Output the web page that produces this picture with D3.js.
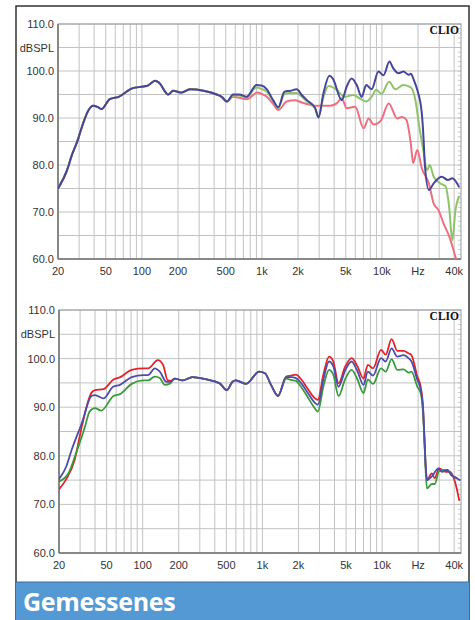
<!DOCTYPE html>
<html>
<head>
<meta charset="utf-8">
<script src="https://cdn.jsdelivr.net/npm/d3@7"></script>
<style>
html,body{margin:0;padding:0;background:#fff;}
svg{display:block;}
</style>
</head>
<body>
<svg id="c" width="475" height="620"></svg>
<script>
// ---------- DATA ----------
const yTicks = [60, 70, 80, 90, 100, 110];
const yTickLabels = ["60.0", "70.0", "80.0", "90.0", "100.0", "110.0"];
const xTickValues = [20, 50, 100, 200, 500, 1000, 2000, 5000, 10000, 20000, 40000];
const xTickLabels = ["20", "50", "100", "200", "500", "1k", "2k", "5k", "10k", "Hz", "40k"];
const xGrid = [20,30,40,50,60,70,80,90,100,200,300,400,500,600,700,800,900,1000,2000,3000,4000,5000,6000,7000,8000,9000,10000,20000,30000,40000];
const unitLabel = "dBSPL";
const brand = "CLIO";
const footerTitle = "Gemessenes";

// Top chart (Hz, dB)
const topCommon = [[20,75],[23.8,78.9],[26,82],[29.4,85.5],[31,87.4],[36,91.7],[39,92.6],[43,92.3],[46,91.9],[54,94.0],[64,94.5],[83,96.3],[103,96.7],[112,96.9],[129,97.9],[139,97.5],[166,95.0],[182,95.8],[215,95.4],[251,96.1],[326,95.8],[421,95.0],[462,94.5]];
const topBlueHigh = [[512,93.5],[575,95.0],[650,95.0],[745,94.5],[900,97.0],[990,96.9],[1100,96.1],[1240,93.8],[1370,92.3],[1540,95.6],[1730,95.8],[1950,96.1],[2150,94.9],[2370,93.8],[2780,92.1],[2960,90.1],[3260,95.3],[3650,99.0],[3900,98.4],[4620,93.8],[5090,96.7],[5590,98.4],[6170,97.0],[6780,94.5],[7400,97.0],[8200,96.1],[9360,99.9],[10300,99.1],[11550,102.0],[12400,100.6],[13800,99.5],[15100,99.9],[16700,99.2],[17400,99.4],[18500,98.0],[19700,96.0],[21500,91.0],[22300,85.0],[22800,80.0],[24600,74.7],[27000,76.1],[31500,77.5],[35500,76.8],[38600,77.2],[43800,75.4]];
const topGreenHigh = [[512,93.5],[575,94.8],[650,94.8],[745,94.4],[900,96.5],[990,96.2],[1100,95.6],[1240,93.6],[1370,92.1],[1540,95.1],[1730,95.3],[1950,95.3],[2150,94.5],[2370,93.5],[2780,92.0],[2960,90.2],[3260,94.5],[3600,96.8],[4200,96.0],[4900,94.5],[5800,94.9],[6500,94.2],[7400,93.5],[8200,94.5],[9000,96.0],[9900,95.1],[11500,97.7],[12900,96.1],[15100,97.0],[17400,96.5],[19000,93.8],[20500,88.1],[22000,83.5],[23800,78.9],[25000,80.0],[27000,77.5],[30500,76.1],[34000,75.4],[36300,71.1],[38600,64.0],[41000,70.4],[43800,73.3]];
const topRedHigh = [[512,93.5],[575,94.5],[650,94.3],[745,94.0],[920,95.4],[1000,95.1],[1100,94.5],[1240,93.0],[1370,91.7],[1610,93.5],[1880,93.8],[2150,93.3],[2530,92.8],[2780,92.6],[3100,92.6],[3700,92.6],[4200,93.1],[4620,94.2],[5090,92.1],[5990,92.4],[7040,87.8],[7750,89.9],[8540,88.6],[9720,89.3],[11400,93.1],[13400,89.9],[14700,90.2],[16000,89.6],[17400,84.6],[18200,80.4],[19700,83.2],[21500,79.3],[24600,76.1],[27000,71.8],[29600,70.4],[32600,67.6],[36900,64.4],[40500,60.9],[42500,59.0]];

// Bottom chart (Hz, dB)
const botBlueLow = [[20,75.2],[23,77.8],[25.5,81.2],[31,86.7],[37.4,92.3],[40,92.5],[47,91.8],[56.6,94.2],[64.6,94.6],[81,96.2],[101,96.6],[111,96.6],[126,98.0],[139,97.3],[158,95.2],[170,95.2]];
const botRedLow = [[20,73.1],[23,75.2],[27,79.1],[31,86.0],[37.4,93.0],[40,93.5],[47,93.7],[57,95.7],[65,96.2],[81,97.7],[101,98.0],[111,98.0],[134,99.7],[148,98.7],[162,95.5],[172,95.4]];
const botGreenLow = [[20,74.7],[24,76.4],[28,80.8],[33,86.0],[36,89.1],[40,89.8],[45,89.3],[57,92.3],[64.6,92.7],[81,94.8],[101,95.5],[111,95.5],[126,96.3],[139,96.0],[153,94.6],[170,94.9]];
const botCommon = [[185,95.9],[216,95.5],[260,96.2],[340,95.7],[440,94.9],[506,93.5],[560,95.2],[600,95.5],[730,94.8],[940,97.3],[1050,97.0],[1180,94.6],[1350,92.3]];
const botBlueHigh = [[1580,96.2],[1740,96.2],[1910,96.0],[2100,95.0],[2360,93.2],[2700,91.1],[2900,90.5],[3250,96.0],[3600,99.4],[3900,98.5],[4330,94.2],[4900,97.5],[5560,99.4],[6200,97.5],[6990,94.6],[7600,97.3],[8400,96.5],[9800,100.1],[10700,99.4],[12000,102.1],[13400,100.4],[15100,100.7],[16600,100.1],[17600,99.4],[19700,95.6],[21000,93.6],[22000,89.4],[22600,83.3],[23100,78.0],[23700,75.0],[25900,75.7],[29600,77.4],[31600,76.7],[35000,77.1],[38000,76.0],[42000,75.4],[44500,75.0]];
const botRedHigh = [[1580,96.3],[1740,96.5],[1910,96.7],[2100,95.8],[2360,94.0],[2700,92.0],[2900,91.5],[3250,97.0],[3600,100.4],[3900,99.5],[4330,94.9],[4900,98.3],[5560,100.1],[6200,98.5],[6990,95.9],[7600,98.7],[8400,98.0],[9800,101.8],[10700,100.8],[12000,104.0],[13400,101.6],[15100,101.6],[16600,101.1],[17600,100.7],[19700,96.3],[21000,94.2],[22000,89.8],[22600,83.3],[23100,78.0],[23700,75.0],[26000,76.4],[27500,75.4],[30000,77.4],[34000,76.7],[37000,76.7],[41000,74.3],[44000,70.9]];
const botGreenHigh = [[1580,95.9],[1740,95.6],[1910,95.4],[2100,94.2],[2360,92.3],[2700,90.0],[2900,89.1],[3250,94.5],[3600,97.7],[3900,96.8],[4330,92.3],[4900,95.7],[5560,97.7],[6200,95.8],[6990,92.9],[7600,95.7],[8400,94.8],[9800,98.0],[10700,97.3],[12000,99.9],[13400,97.7],[15100,97.8],[16600,97.1],[17600,97.3],[19700,94.2],[21000,92.9],[22000,88.5],[22600,82.5],[23100,77.0],[23700,73.3],[26000,74.2],[27500,74.2],[30000,76.9],[35000,77.1],[38000,76.0],[42000,75.4]];

// ---------- DRAW ----------
const svg = d3.select("#c");
const FONT = "'Liberation Sans', Arial, sans-serif";

function drawChart(cfg) {
  const x = d3.scaleLog().domain([20, 45600]).range([cfg.left, cfg.right]);
  const y = d3.scaleLinear().domain([60, 110]).range([cfg.bottom, cfg.top]);
  const g = svg.append("g");
  const clipId = "clip" + cfg.id;
  svg.append("clipPath").attr("id", clipId).append("rect")
    .attr("x", cfg.left).attr("y", cfg.top)
    .attr("width", cfg.right - cfg.left).attr("height", cfg.bottom - cfg.top);

  // grid
  g.selectAll(".vg").data(xGrid).enter().append("line")
    .attr("x1", d => x(d)).attr("x2", d => x(d))
    .attr("y1", cfg.top).attr("y2", cfg.bottom)
    .attr("stroke", "#c2c2c2").attr("stroke-width", 1);
  g.selectAll(".hg").data(d3.range(60, 111, 5)).enter().append("line")
    .attr("x1", cfg.left).attr("x2", cfg.right)
    .attr("y1", d => y(d)).attr("y2", d => y(d))
    .attr("stroke", "#c2c2c2").attr("stroke-width", 1);
  // right minor ticks
  g.selectAll(".rt").data(d3.range(60, 111, 1)).enter().append("line")
    .attr("x1", cfg.right - 3).attr("x2", cfg.right)
    .attr("y1", d => y(d)).attr("y2", d => y(d))
    .attr("stroke", "#bbb").attr("stroke-width", 0.8);

  // frame
  g.append("rect").attr("x", cfg.left).attr("y", cfg.top)
    .attr("width", cfg.right - cfg.left).attr("height", cfg.bottom - cfg.top)
    .attr("fill", "none").attr("stroke", "#9a9a9a").attr("stroke-width", 1);
  g.append("line").attr("x1", cfg.left).attr("x2", cfg.left)
    .attr("y1", cfg.top).attr("y2", cfg.bottom).attr("stroke", "#777").attr("stroke-width", 1.5);
  g.append("line").attr("x1", cfg.left).attr("x2", cfg.right)
    .attr("y1", cfg.bottom).attr("y2", cfg.bottom).attr("stroke", "#777").attr("stroke-width", 1.5);

  // y labels
  g.selectAll(".yl").data(yTicks).enter().append("text")
    .attr("x", cfg.left - 4).attr("y", d => y(d) + 4)
    .attr("text-anchor", "end").attr("font-family", FONT).attr("font-size", 11)
    .attr("fill", "#333").text((d, i) => yTickLabels[i]);
  g.append("text").attr("x", cfg.left - 4).attr("y", y(105) + 4)
    .attr("text-anchor", "end").attr("font-family", FONT).attr("font-size", 11)
    .attr("fill", "#333").text(unitLabel);

  // x labels
  g.selectAll(".xl").data(xTickValues).enter().append("text")
    .attr("x", d => x(d)).attr("y", cfg.bottom + 16)
    .attr("text-anchor", "middle").attr("font-family", FONT).attr("font-size", 11)
    .attr("fill", "#333").text((d, i) => xTickLabels[i]);

  // brand
  g.append("text").attr("x", cfg.right - 2).attr("y", cfg.top + 10)
    .attr("text-anchor", "end").attr("font-family", "'Liberation Serif', 'DejaVu Serif', serif")
    .attr("font-weight", "bold").attr("font-size", 11.5).attr("fill", "#111").text(brand);

  // lines
  const line = d3.line().x(d => x(d[0])).y(d => y(d[1])).curve(d3.curveMonotoneX);
  const lg = g.append("g").attr("clip-path", `url(#${clipId})`);
  cfg.series.forEach(s => {
    lg.append("path").attr("d", line(s.data)).attr("fill", "none")
      .attr("stroke", s.color).attr("stroke-width", s.width || 2)
      .attr("stroke-linejoin", "round").attr("stroke-linecap", "round");
  });
}

// outer frame
svg.append("rect").attr("x", 16).attr("y", 6).attr("width", 453).attr("height", 630)
  .attr("fill", "#fff").attr("stroke", "#333").attr("stroke-width", 1.5);

drawChart({
  id: "top", left: 58, right: 461, top: 24, bottom: 259,
  series: [
    {data: topCommon.concat(topRedHigh), color: "#ee6f80"},
    {data: topCommon.concat(topGreenHigh), color: "#8dc46a"},
    {data: topCommon.concat(topBlueHigh), color: "#45459a"}
  ]
});

drawChart({
  id: "bot", left: 59, right: 461, top: 310, bottom: 553,
  series: [
    {data: botRedLow.concat(botCommon, botRedHigh), color: "#e2232a", width: 1.8},
    {data: botGreenLow.concat(botCommon, botGreenHigh), color: "#3a9a3e", width: 1.8},
    {data: botBlueLow.concat(botCommon, botBlueHigh), color: "#4d4dab", width: 1.8}
  ]
});

// footer
svg.append("rect").attr("x", 16).attr("y", 582).attr("width", 453).attr("height", 40)
  .attr("fill", "#5499d3");
svg.append("line").attr("x1", 16).attr("x2", 469).attr("y1", 582).attr("y2", 582)
  .attr("stroke", "#3d6f9a").attr("stroke-width", 1);
svg.append("text").attr("x", 23).attr("y", 611)
  .attr("font-family", "'Open Sans', 'Noto Sans', sans-serif").attr("font-weight", "bold")
  .attr("font-size", 25).attr("letter-spacing", -0.3).attr("fill", "#fff").text(footerTitle);
</script>
</body>
</html>
